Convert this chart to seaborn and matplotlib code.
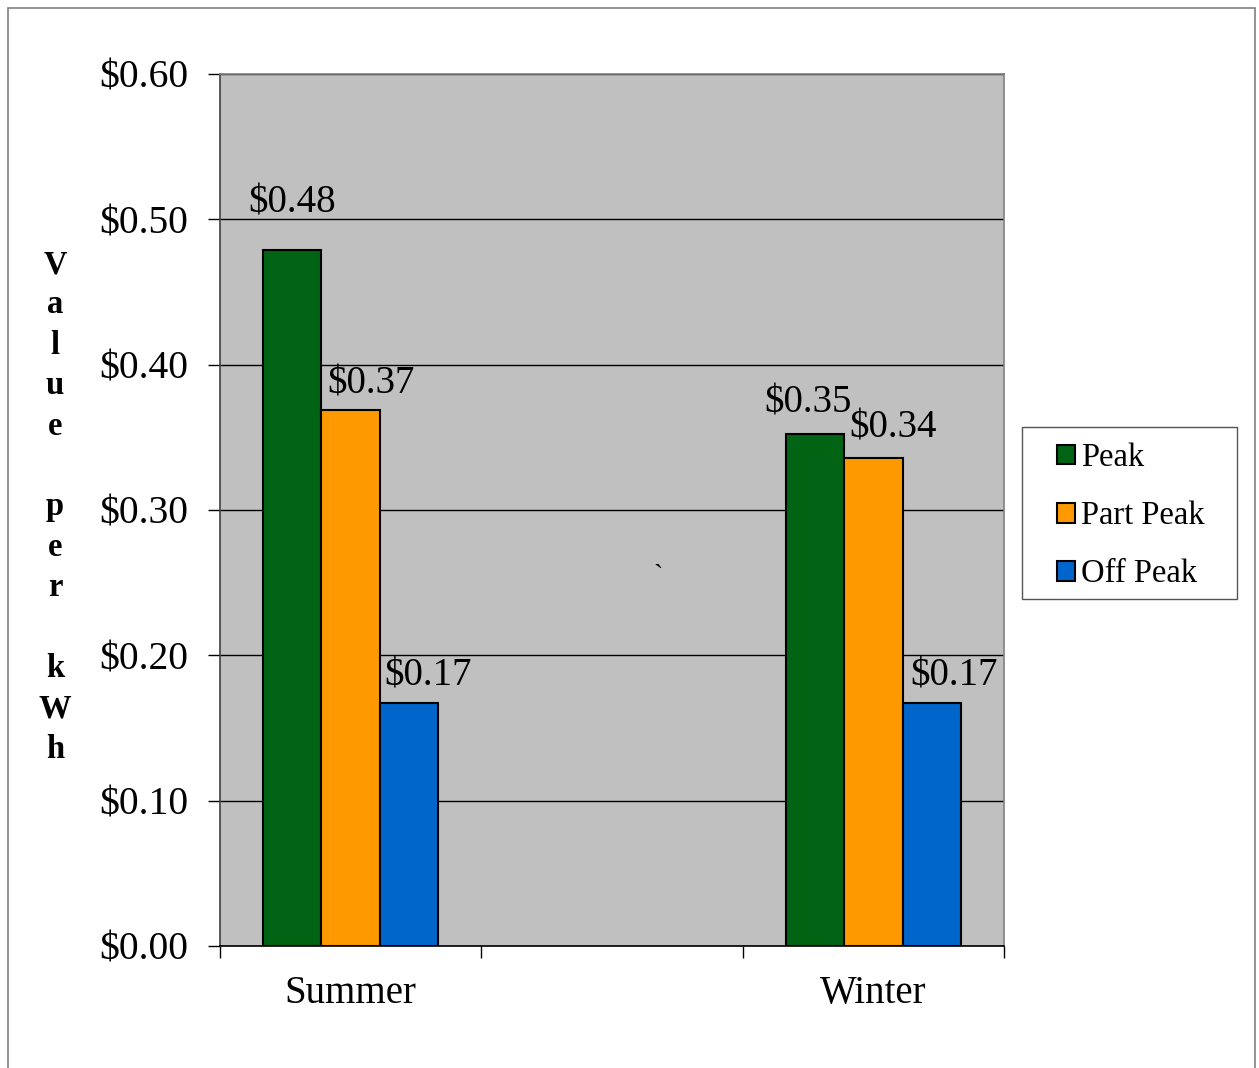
import matplotlib
matplotlib.use('Agg')

import numpy as np
import pandas as pd
import matplotlib.pyplot as plt
from matplotlib.patches import Rectangle
import seaborn as sns

seasons = ['Summer', 'Summer', 'Summer', 'Winter', 'Winter', 'Winter']
periods = ['Peak', 'Part Peak', 'Off Peak', 'Peak', 'Part Peak', 'Off Peak']
values = [0.479, 0.369, 0.167, 0.352, 0.336, 0.167]
catOrder = ['Summer', ' ', 'Winter']
hueOrder = ['Peak', 'Part Peak', 'Off Peak']
colors = ['#006414', '#FF9900', '#0066CC']
yTicks = [0.0, 0.1, 0.2, 0.3, 0.4, 0.5, 0.6]
yLabel = 'Value per kWh'

df = pd.DataFrame({'season': seasons, 'period': periods, 'value': values})

sns.set_style('white')
plt.rcParams['font.family'] = ['Liberation Serif', 'DejaVu Serif']
plt.rcParams['text.color'] = 'black'
plt.rcParams['xtick.color'] = 'black'
plt.rcParams['ytick.color'] = 'black'
plt.rcParams['axes.labelcolor'] = 'black'

W, H = 1259, 1068
fig = plt.figure(figsize=(W / 100, H / 100), dpi=100)
ax = fig.add_axes([220 / W, 1 - 946 / H, (1004 - 220) / W, (946 - 74) / H])
ax.set_facecolor('#C0C0C0')

sns.barplot(data=df, x='season', y='value', hue='period', order=catOrder,
            hue_order=hueOrder, palette=colors, width=0.67, gap=0,
            edgecolor='black', linewidth=1.5, saturation=1, ax=ax,
            err_kws={'linewidth': 0})

ax.set_xlim(-0.5, 2.5)
ax.set_ylim(0, 0.6)
ax.set_yticks(yTicks)
ax.set_yticklabels(['$%.2f' % v for v in yTicks], fontsize=28.5)
ax.yaxis.grid(True, color='black', linewidth=1)
ax.set_axisbelow(True)
ax.tick_params(axis='y', direction='out', length=8.6, width=1, color='black', pad=14, left=True)
ax.set_xticks([0, 1, 2])
ax.set_xticklabels(['Summer', '', 'Winter'], fontsize=28)
ax.tick_params(axis='x', which='major', length=0, pad=21)
ax.set_xticks([-0.5, 0.5, 1.5, 2.5], minor=True)
ax.tick_params(axis='x', which='minor', direction='out', length=8.6, width=1, color='black', bottom=True)
ax.set_xlabel('')
ax.set_ylabel('')

ax.spines['top'].set_color('#808080')
ax.spines['right'].set_color('#808080')
ax.spines['left'].set_color('#404040')
ax.spines['bottom'].set_color('black')
for s in ax.spines.values():
    s.set_linewidth(1.2)
    s.set_visible(True)

# value labels above bars, some nudged right like the original
bars = [p for p in ax.patches if p.get_height() > 0]
bars = sorted(bars, key=lambda p: p.get_x())
nudge = [(0, 28), (20, 7), (19, 9), (-7, 13), (20, 11), (22, 9)]
for p, (dx, dy) in zip(bars, nudge):
    v = p.get_height()
    ax.annotate('$%.2f' % v, (p.get_x() + p.get_width() / 2, v),
                xytext=(dx * 0.72, dy * 0.72), textcoords='offset points',
                ha='center', va='bottom', fontsize=28)

# legend (frame drawn separately so the swatches sit further in)
handles, labels = ax.get_legend_handles_labels()
ax.legend(handles, labels, loc='center left', bbox_to_anchor=(1057 / W, 1 - 516 / H),
          bbox_transform=fig.transFigure, fontsize=23.5, frameon=False,
          handlelength=0.55, handleheight=0.55, handletextpad=0.2,
          labelspacing=0.85, borderpad=0, borderaxespad=0)
fig.patches.append(Rectangle((1022 / W, 1 - 599 / H), (1237 - 1022) / W, (599 - 427) / H,
                             transform=fig.transFigure, facecolor='white',
                             edgecolor='#555555', linewidth=1, zorder=-1))

# stacked y-axis label
for i, ch in enumerate(yLabel):
    fig.text(55 / W, 1 - (273 + 40.4 * i) / H, ch, ha='center', va='baseline',
             fontsize=23.5, fontweight='bold')

fig.text(658 / W, 1 - 576 / H, '`', ha='center', va='center', fontsize=20)

fig.patches.append(Rectangle((8 / W, -0.01), (1255 - 8) / W, 1 - 8 / H + 0.01,
                             transform=fig.transFigure, fill=False,
                             edgecolor='#808080', linewidth=1.2))

fig.savefig('out.png', dpi=100)
